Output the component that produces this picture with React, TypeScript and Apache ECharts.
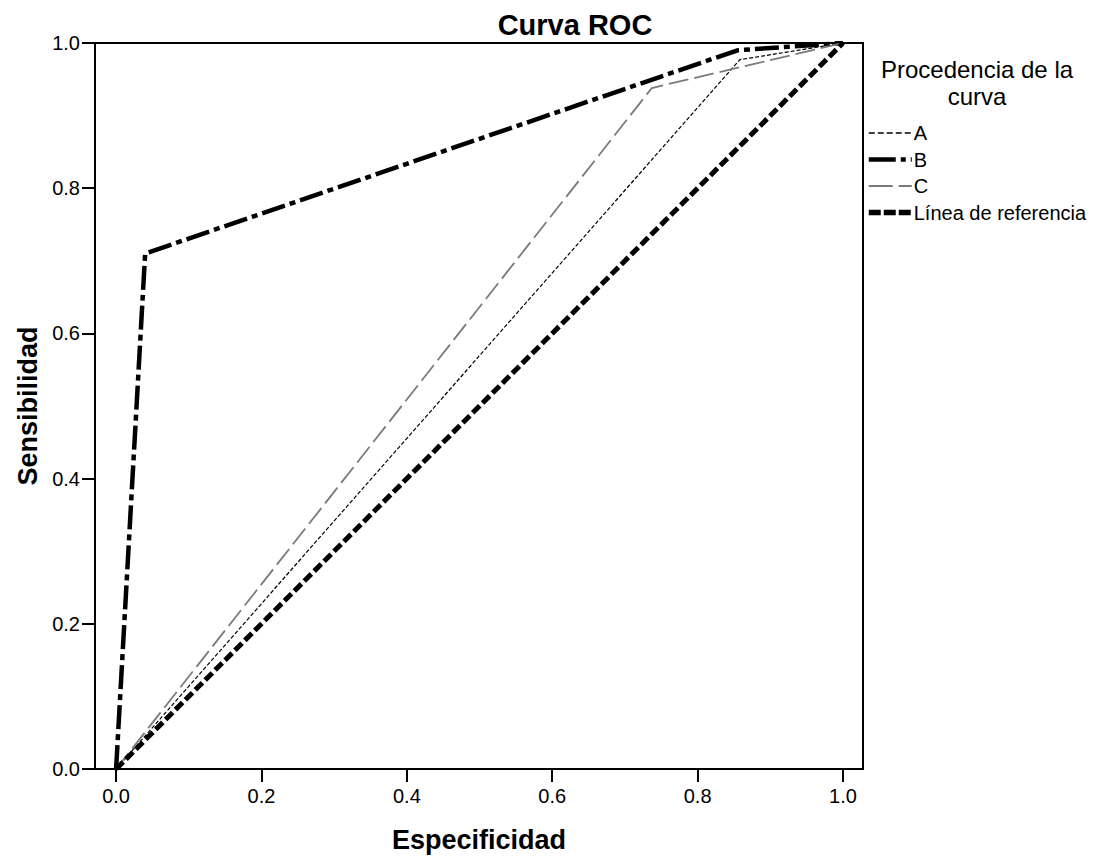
import React, { useEffect, useRef } from "react";
import * as echarts from "echarts";

const seriesA: number[][] = [[0, 0], [0.858, 0.977], [1, 1]];
const seriesB: number[][] = [[0, 0], [0.04, 0.71], [0.855, 0.99], [1, 1]];
const seriesC: number[][] = [[0, 0], [0.737, 0.938], [1, 1]];
const refLine: number[][] = [[0, 0], [1, 1]];
const tickValues: number[] = [0, 0.2, 0.4, 0.6, 0.8, 1.0];
const seriesNames: string[] = ["A", "B", "C", "Línea de referencia"];

const FONT = "'Liberation Sans', Arial, sans-serif";

const styleA = { color: "#000", width: 1.2, type: [4, 2] };
const styleB = { color: "#000", width: 4.5, type: [24, 5, 6, 5] };
const styleC = { color: "#7a7a7a", width: 1.8, type: [20, 6] };
const styleR = { color: "#000", width: 5, type: [10, 4] };

export default function App() {
  const ref = useRef<HTMLDivElement>(null);
  useEffect(() => {
    if (!ref.current) return;
    const chart = echarts.init(ref.current, undefined, { renderer: "svg" });
    chart.setOption({
      animation: false,
      backgroundColor: "#ffffff",
      textStyle: { fontFamily: FONT },
      title: {
        text: "Curva ROC",
        left: 570,
        top: 5,
        textAlign: "center",
        textStyle: { fontFamily: FONT, fontSize: 29, fontWeight: "bold", color: "#000" },
      },
      graphic: [
        {
          type: "text",
          x: 977,
          y: 56,
          style: {
            text: "Procedencia de la\ncurva",
            fontFamily: FONT,
            fontSize: 24,
            lineHeight: 27,
            fill: "#000",
            align: "center",
          },
        },
      ],
      legend: {
        orient: "vertical",
        left: 861,
        top: 118,
        itemWidth: 43,
        itemHeight: 14,
        itemGap: 6.5,
        data: [
          { name: seriesNames[0], lineStyle: { width: 1.6, color: "#000", type: [6, 3] } },
          { name: seriesNames[1], lineStyle: { width: 4.5, type: [27, 5, 5, 5] } },
          { name: seriesNames[2], lineStyle: { width: 2, type: [24, 6] } },
          { name: seriesNames[3], lineStyle: { width: 5.5, type: [12, 3] } },
        ],
        itemStyle: { opacity: 0 },
        textStyle: { fontFamily: FONT, fontSize: 20, color: "#000", padding: [0, 0, 0, -3] },
      },
      grid: {
        left: 95,
        top: 43,
        right: 230,
        bottom: 90,
        show: true,
        borderColor: "#000",
        borderWidth: 2,
        backgroundColor: "#fff",
      },
      xAxis: {
        type: "value",
        min: -0.029,
        max: 1.0275,
        name: "Especificidad",
        nameLocation: "middle",
        nameGap: 57,
        nameTextStyle: { fontFamily: FONT, fontSize: 27, fontWeight: "bold", color: "#000" },
        splitLine: { show: false },
        axisLine: { show: false, onZero: false },
        axisTick: {
          show: true,
          length: 13,
          lineStyle: { color: "#000", width: 2 },
          customValues: tickValues,
        },
        axisLabel: {
          customValues: tickValues,
          formatter: (v: number) => v.toFixed(1),
          fontFamily: FONT,
          fontSize: 20,
          color: "#000",
          margin: 17,
        },
      },
      yAxis: {
        type: "value",
        min: 0,
        max: 1,
        interval: 0.2,
        name: "Sensibilidad",
        nameLocation: "middle",
        nameGap: 54,
        nameTextStyle: { fontFamily: FONT, fontSize: 27, fontWeight: "bold", color: "#000" },
        splitLine: { show: false },
        axisLine: { show: false, onZero: false },
        axisTick: { show: true, length: 13, lineStyle: { color: "#000", width: 2 } },
        axisLabel: {
          formatter: (v: number) => v.toFixed(1),
          fontFamily: FONT,
          fontSize: 20,
          color: "#000",
          margin: 15,
        },
      },
      series: [
        { name: seriesNames[0], type: "line", data: seriesA, symbol: "none", lineStyle: styleA, itemStyle: { color: styleA.color } },
        { name: seriesNames[1], type: "line", data: seriesB, symbol: "none", lineStyle: styleB, itemStyle: { color: styleB.color } },
        { name: seriesNames[2], type: "line", data: seriesC, symbol: "none", lineStyle: styleC, itemStyle: { color: styleC.color } },
        { name: seriesNames[3], type: "line", data: refLine, symbol: "none", lineStyle: styleR, itemStyle: { color: styleR.color } },
      ],
    });
    return () => chart.dispose();
  }, []);
  return <div ref={ref} style={{ width: 1093, height: 859, position: "absolute", left: 0, top: 0 }} />;
}
